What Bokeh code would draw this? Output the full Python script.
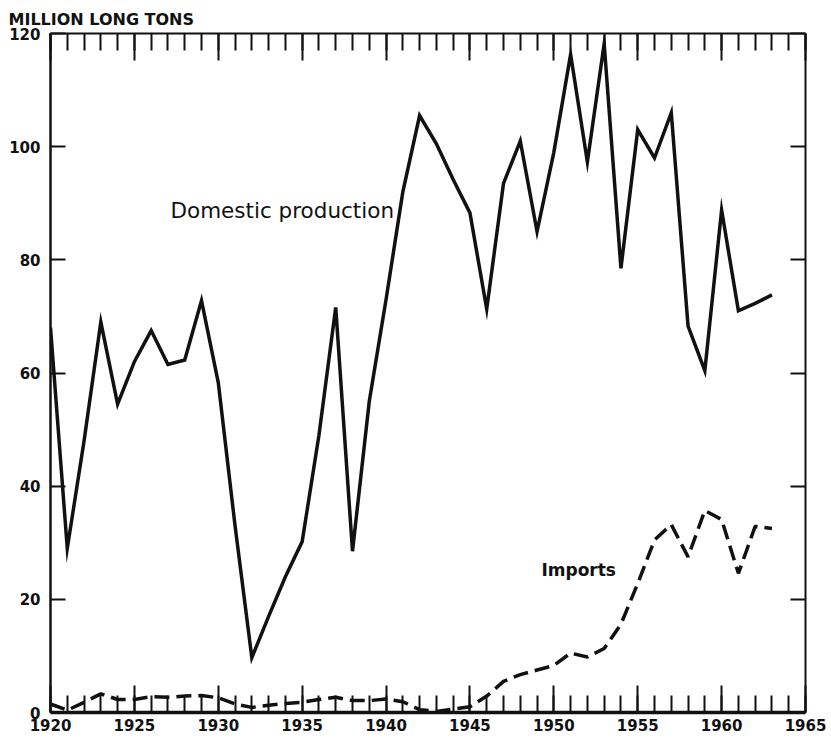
from bokeh.plotting import figure
from bokeh.models import LinearAxis, FixedTicker, Range1d, Label, Title
from bokeh.embed import file_html
from bokeh.resources import INLINE

# Years covered by the series
years = list(range(1920, 1964))

# Domestic production, million long tons
production = [
    68, 29, 48, 69, 54.5, 62, 67.5, 61.5, 62.3, 72.8,
    58.3, 33, 9.7, 17, 24, 30.2, 49, 71.6, 28.5, 55,
    73, 92, 105.5, 100.5, 94.2, 88.3, 71.3, 93.5, 101, 85,
    99, 116.3, 97.3, 118.2, 78.5, 103, 98, 106, 68.3, 60.4,
    88.8, 71, 72.3, 73.8,
]

# Imports, million long tons
imports = [
    1.5, 0.4, 1.8, 3.3, 2.3, 2.3, 2.8, 2.7, 2.9, 3.0,
    2.6, 1.5, 0.9, 1.3, 1.6, 1.8, 2.3, 2.7, 2.1, 2.1,
    2.4, 1.9, 0.5, 0.2, 0.6, 1.0, 2.9, 5.5, 6.7, 7.5,
    8.3, 10.5, 9.8, 11.3, 15.6, 22.8, 30.5, 33.2, 27.5, 35.7,
    34.1, 24.6, 32.9, 32.5,
]

x_ticks = list(range(1920, 1966, 5))
x_minor = list(range(1920, 1966))
y_ticks = list(range(0, 121, 20))

FONT = "DejaVu Sans"
INK = "#111111"

p = figure(
    width=831, height=741,
    x_range=Range1d(1920, 1965), y_range=Range1d(0, 120),
    x_axis_location=None, y_axis_location=None,
    output_backend="svg", toolbar_location=None,
    min_border_left=50, min_border_right=26,
    min_border_top=33, min_border_bottom=29,
)
p.grid.visible = False
p.outline_line_color = None
p.background_fill_color = "white"
p.border_fill_color = "white"


def style_axis(ax, width, major_in, minor_in, labels=True):
    ax.axis_line_color = INK
    ax.axis_line_width = width
    ax.major_tick_line_color = INK
    ax.major_tick_line_width = 2
    ax.minor_tick_line_color = INK
    ax.minor_tick_line_width = 2
    ax.major_tick_in = major_in
    ax.major_tick_out = 0
    ax.minor_tick_in = minor_in
    ax.minor_tick_out = 0
    if labels:
        ax.major_label_text_font = FONT
        ax.major_label_text_font_style = "bold"
        ax.major_label_text_font_size = "15px"
        ax.major_label_text_color = INK
    else:
        # frame side without numbers: keep ticks, skip label drawing
        ax.major_label_text_color = None
        ax.major_label_text_font_size = "1px"
        ax.major_label_standoff = 0


# Left value axis with labels
left = LinearAxis(ticker=FixedTicker(ticks=y_ticks))
style_axis(left, 2.5, 15, 0)
left.major_label_standoff = 10
p.add_layout(left, "left")

# Right value axis, ticks only
right = LinearAxis(ticker=FixedTicker(ticks=y_ticks))
style_axis(right, 2, 15, 0, labels=False)
p.add_layout(right, "right")

# Bottom year axis with yearly minor ticks
bottom = LinearAxis(ticker=FixedTicker(ticks=x_ticks, minor_ticks=x_minor))
style_axis(bottom, 3.5, 27, 17)
bottom.major_label_standoff = 6
p.add_layout(bottom, "below")

# Top year axis, ticks only
top = LinearAxis(ticker=FixedTicker(ticks=x_ticks, minor_ticks=x_minor))
style_axis(top, 2, 27, 17, labels=False)
p.add_layout(top, "above")

# Unit caption over the value axis
p.add_layout(Title(
    text="MILLION LONG TONS", align="left", offset=-42,
    text_font=FONT, text_font_style="bold", text_font_size="16px",
    text_color=INK, standoff=10,
), "above")

# Series
p.line(years, production, line_color=INK, line_width=3.5, line_join="miter")
p.line(years, imports, line_color=INK, line_width=3.5, line_dash="15 7")

# Series names
p.add_layout(Label(
    x=1927.15, y=88.7, text="Domestic production",
    text_font=FONT, text_font_size="21.5px",
    text_color=INK, text_baseline="middle", text_align="left",
))
p.add_layout(Label(
    x=1949.26, y=25.1, text="Imports",
    text_font=FONT, text_font_style="bold", text_font_size="17px",
    text_color=INK, text_baseline="middle", text_align="left",
))

open("out.html", "w").write(file_html(p, INLINE))
